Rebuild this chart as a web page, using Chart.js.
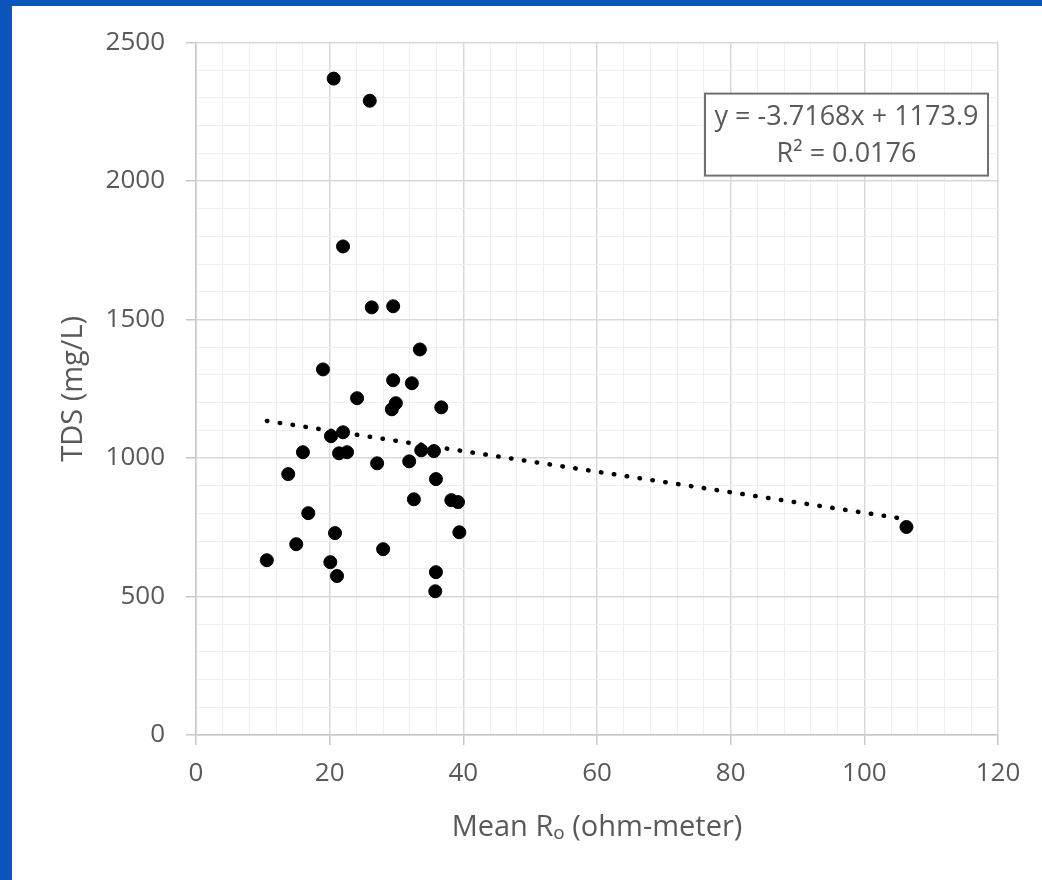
<!DOCTYPE html>
<html>
<head>
<meta charset="utf-8">
<script src="https://cdn.jsdelivr.net/npm/chart.js@4.4.1/dist/chart.umd.min.js"></script>
<style>
  html, body { margin: 0; padding: 0; }
  body { width: 1042px; height: 880px; background: #0d55bd; overflow: hidden; position: relative; }
  #wrap { position: absolute; left: 12px; top: 6px; width: 1030px; height: 874px; background: #fff; }
</style>
</head>
<body>
<div id="wrap"><canvas id="tdsChart" width="1030" height="874"></canvas></div>
<script>
  // Mean Ro (ohm-meter) vs TDS (mg/L)
  const meanRo = [20.6, 26.0, 22.0, 26.3, 29.5, 33.5, 19.0, 29.5, 32.3, 24.1,
                  29.9, 29.3, 36.7, 22.0, 20.2, 16.0, 21.4, 22.6, 33.7, 35.6,
                  13.8, 27.1, 31.9, 35.9, 32.6, 38.2, 39.2, 16.8, 20.8, 39.4,
                  15.0, 28.0, 10.6, 20.1, 21.1, 35.9, 35.8, 106.3];
  const tds = [2370, 2290, 1764, 1544, 1548, 1392, 1320, 1281, 1270, 1216,
               1198, 1176, 1183, 1093, 1079, 1021, 1017, 1021, 1028, 1025,
               942, 981, 988, 924, 851, 848, 841, 801, 729, 732,
               689, 671, 631, 624, 574, 588, 519, 751];

  // linear trend line, end points
  const trendX = [10.6, 106.3];
  const trendY = [1134, 779];

  const equationLines = ["y = -3.7168x + 1173.9", "R\u00b2 = 0.0176"];

  const FONT = "'Open Sans', 'Noto Sans', sans-serif";
  const TEXT = "#595959";

  const isMajor = (v, step) => Math.abs(v / step - Math.round(v / step)) < 1e-6;

  const equationBox = {
    id: 'equationBox',
    afterDraw(chart) {
      const { ctx, chartArea } = chart;
      const w = 283, h = 82;
      const x = chartArea.right - 10 - w;
      const y = chartArea.top + 51;
      ctx.save();
      ctx.fillStyle = "#fff";
      ctx.fillRect(x, y, w, h);
      ctx.strokeStyle = "#707070";
      ctx.lineWidth = 2;
      ctx.strokeRect(x, y, w, h);
      ctx.fillStyle = TEXT;
      ctx.font = "27px " + FONT;
      ctx.textAlign = "center";
      ctx.textBaseline = "middle";
      ctx.fillText(equationLines[0], x + w / 2, y + 24);
      ctx.fillText(equationLines[1], x + w / 2, y + 61);
      ctx.restore();
    }
  };

  new Chart(document.getElementById("tdsChart"), {
    type: 'scatter',
    data: {
      datasets: [{
        data: meanRo.map((x, i) => ({ x: x, y: tds[i] })),
        backgroundColor: "#000",
        borderColor: "#000",
        pointRadius: 6.5,
        pointHoverRadius: 6.5,
        order: 1
      }, {
        type: 'line',
        data: trendX.map((x, i) => ({ x: x, y: trendY[i] })),
        borderColor: "#000",
        borderWidth: 4.5,
        borderDash: [0.5, 12.5],
        borderCapStyle: 'round',
        pointRadius: 0,
        fill: false,
        order: 2
      }]
    },
    options: {
      responsive: false,
      animation: false,
      layout: { padding: { left: 0, top: 36, right: 44, bottom: 0 } },
      scales: {
        x: {
          type: 'linear',
          min: 0,
          max: 120,
          afterFit: s => { s.height = 145; },
          ticks: {
            stepSize: 4,
            autoSkip: false,
            maxRotation: 0,
            padding: 13,
            color: TEXT,
            font: { family: FONT, size: 26 },
            callback: v => isMajor(v, 20) ? v : ''
          },
          grid: {
            color: c => isMajor(c.tick.value, 20) ? "#d9d9d9" : "#efefef",
            lineWidth: c => isMajor(c.tick.value, 20) ? 1.5 : 1,
            tickColor: c => isMajor(c.tick.value, 20) ? "#c8c8c8" : "rgba(0,0,0,0)",
            tickLength: 10
          },
          border: { color: "#c8c8c8", width: 1.5 },
          title: {
            display: true,
            text: "Mean R\u2092 (ohm-meter)",
            color: TEXT,
            font: { family: FONT, size: 29 },
            padding: { top: 0, bottom: 35 }
          }
        },
        y: {
          min: 0,
          max: 2500,
          afterFit: s => { s.width = 184; },
          ticks: {
            stepSize: 100,
            autoSkip: false,
            padding: 21,
            color: TEXT,
            font: { family: FONT, size: 26 },
            callback: v => isMajor(v, 500) ? v : ''
          },
          grid: {
            color: c => isMajor(c.tick.value, 500) ? "#d9d9d9" : "#efefef",
            lineWidth: c => isMajor(c.tick.value, 500) ? 1.5 : 1,
            tickColor: c => isMajor(c.tick.value, 500) ? "#c8c8c8" : "rgba(0,0,0,0)",
            tickLength: 10
          },
          border: { color: "#c8c8c8", width: 1.5 },
          title: {
            display: true,
            text: "TDS (mg/L)",
            color: TEXT,
            font: { family: FONT, size: 29 },
            padding: { top: 44, bottom: 0 }
          }
        }
      },
      plugins: {
        legend: { display: false },
        tooltip: { enabled: false }
      }
    },
    plugins: [equationBox]
  });
</script>
</body>
</html>
